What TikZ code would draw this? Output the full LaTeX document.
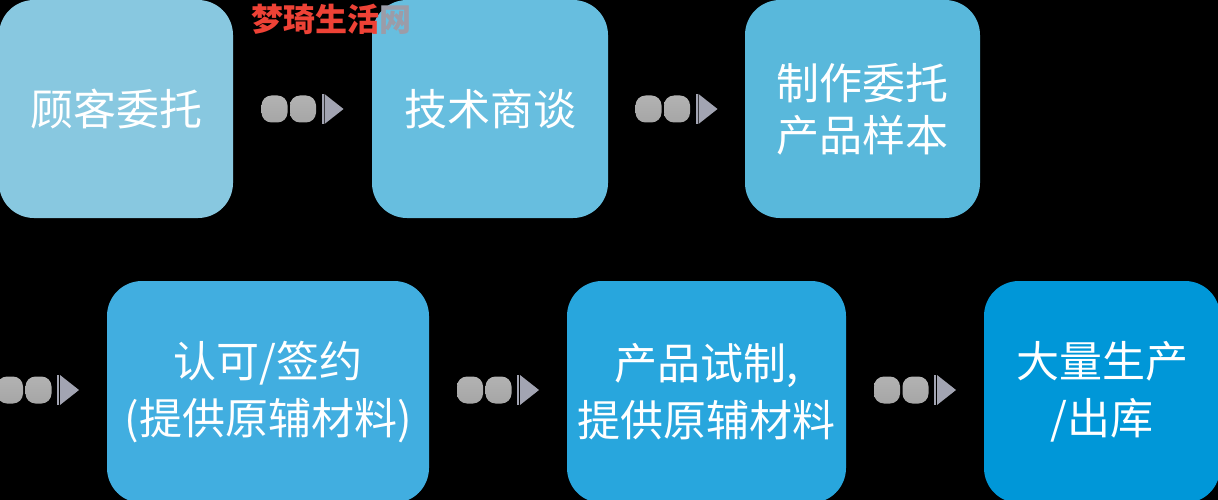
\documentclass[tikz,border=0pt]{standalone}
\usepackage{fontspec}
\newfontfamily\cjk{Noto Sans CJK SC}
\usetikzlibrary{calc}
\definecolor{cA}{HTML}{88C8E0}
\definecolor{cB}{HTML}{67BEDF}
\definecolor{cC}{HTML}{59B8DB}
\definecolor{cD}{HTML}{41AEE0}
\definecolor{cE}{HTML}{28A6DD}
\definecolor{cF}{HTML}{0097D8}
\definecolor{dotgray}{HTML}{B2B2B2}
\definecolor{dotgraydark}{HTML}{A6A6A6}
\definecolor{tri}{HTML}{A2A4B2}
\definecolor{wmred}{HTML}{EE4236}
\definecolor{wmgray}{HTML}{9C9CA8}
\tikzset{
  box/.style={rectangle, rounded corners=35pt, inner sep=0pt, text=white, align=center,
    font=\cjk\fontsize{43pt}{52pt}\selectfont},
  boxtwo/.style={box, font=\cjk\fontsize{43pt}{57pt}\selectfont},
  dotbox/.style={rectangle, rounded corners=10pt, top color=dotgray, bottom color=dotgraydark, draw=none,
    minimum width=26pt, minimum height=27pt, inner sep=0pt},
  dotarrow/.pic={
    \node[dotbox] at (13,0) {};
    \node[dotbox] at (41.5,0) {};
    \fill[tri] (60,-15) rectangle (62,15);
    \fill[tri] (63,-15) -- (82,0) -- (63,15) -- cycle;
  }
}
\begin{document}
\begin{tikzpicture}[x=1pt,y=-1pt]
\useasboundingbox (0,0) rectangle (1218,500);
\fill[black] (0,0) rectangle (1218,500);
\clip (0,0) rectangle (1218,500);
% row 1
\node[box, fill=cA, minimum width=234pt, minimum height=218pt] (b1) at (116,109) {顾客委托};
\node[box, fill=cB, minimum width=236pt, minimum height=218pt] (b2) at (490,109) {技术商谈};
\node[box, fill=cC, minimum width=235pt, minimum height=218pt] (b3) at (862.5,109) {制作委托\\产品样本};
% row 2
\node[boxtwo, fill=cD, minimum width=322pt, minimum height=222pt] (b4) at (268,392) {认可/签约\\(提供原辅材料)};
\node[boxtwo, fill=cE, minimum width=279pt, minimum height=222pt] (b5) at (706.5,392) {产品试制,\\提供原辅材料};
\node[boxtwo, fill=cF, minimum width=236pt, minimum height=222pt] (b6) at (1102,392) {大量生产\\/出库};
% connectors
\coordinate (s0) at (-3,390);
\pic at ($(b1.east)!0.5!(b2.west)+(-41,0)$) {dotarrow};
\pic at ($(b2.east)!0.5!(b3.west)+(-41,0)$) {dotarrow};
\pic at (s0) {dotarrow};
\pic at ($(b4.east)!0.5!(b5.west)+(-41,-2)$) {dotarrow};
\pic at ($(b5.east)!0.5!(b6.west)+(-41,-2)$) {dotarrow};
% watermark
\node[inner sep=0pt, font=\cjk\bfseries\fontsize{32pt}{32pt}\selectfont] (wm) at (331,19)
  {\textcolor{wmred}{梦琦生活}\textcolor{wmgray}{网}};
\end{tikzpicture}
\end{document}
